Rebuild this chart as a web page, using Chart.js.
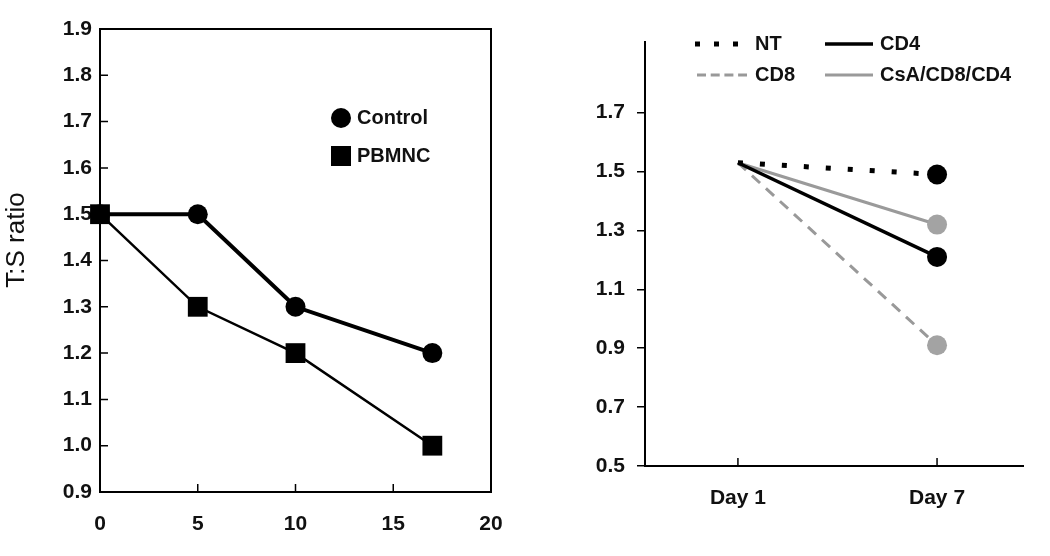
<!DOCTYPE html>
<html>
<head>
<meta charset="utf-8">
<script src="https://cdn.jsdelivr.net/npm/chart.js@4.4.1/dist/chart.umd.min.js"></script>
<style>
  html, body { margin: 0; padding: 0; background: #fff; }
  #wrap { position: relative; width: 1050px; height: 556px; }
  #leftChart { position: absolute; left: 0; top: 0; }
  #rightChart { position: absolute; left: 530px; top: 0; }
</style>
</head>
<body>
<div id="wrap">
  <canvas id="leftChart" width="530" height="556"></canvas>
  <canvas id="rightChart" width="520" height="556"></canvas>
</div>
<script>
// left panel: T:S ratio vs day
const leftDays = [0, 5, 10, 17];
const controlRatio = [1.5, 1.5, 1.3, 1.2];
const pbmncRatio = [1.5, 1.3, 1.2, 1.0];
const leftXTicks = [0, 5, 10, 15, 20];
const leftYTicks = [0.9, 1.0, 1.1, 1.2, 1.3, 1.4, 1.5, 1.6, 1.7, 1.8, 1.9];

// right panel: day 1 -> day 7
const dayNums = [1, 7];
const dayLabels = ['Day 1', 'Day 7'];
const ntRatio = [1.53, 1.49];
const cd4Ratio = [1.53, 1.21];
const cd8Ratio = [1.53, 0.91];
const csaRatio = [1.53, 1.32];
const rightYTicks = [0.5, 0.7, 0.9, 1.1, 1.3, 1.5, 1.7];

Chart.defaults.font.family = 'Arial, "Liberation Sans", sans-serif';
Chart.defaults.color = '#111';

const toXY = (xs, ys) => xs.map((x, i) => ({ x: x, y: ys[i] }));
const tickFont = { size: 21, weight: 'bold' };

// tick marks pointing into the plot area
const inwardTicks = {
  id: 'inwardTicks',
  beforeDatasetsDraw(chart, args, opts) {
    const { ctx, chartArea: a, scales } = chart;
    ctx.save();
    ctx.strokeStyle = '#000';
    ctx.lineWidth = 1.5;
    ctx.beginPath();
    if (opts.x) {
      scales.x.ticks.forEach(t => {
        const px = scales.x.getPixelForValue(t.value);
        ctx.moveTo(px, a.bottom);
        ctx.lineTo(px, a.bottom - 8);
      });
    }
    if (opts.y) {
      scales.y.ticks.forEach(t => {
        const py = scales.y.getPixelForValue(t.value);
        ctx.moveTo(a.left, py);
        ctx.lineTo(a.left + 8, py);
      });
    }
    ctx.stroke();
    ctx.restore();
  }
};

// box, y title and legend for the left panel
const leftDecor = {
  id: 'leftDecor',
  beforeDatasetsDraw(chart) {
    const { ctx, chartArea: a } = chart;
    ctx.save();
    ctx.strokeStyle = '#000';
    ctx.lineWidth = 2;
    ctx.strokeRect(a.left, a.top, a.right - a.left, a.bottom - a.top);
    ctx.restore();
  },
  afterDraw(chart) {
    const ctx = chart.ctx;
    ctx.save();
    ctx.fillStyle = '#111';
    ctx.font = '26px Arial, "Liberation Sans", sans-serif';
    ctx.translate(17, 240);
    ctx.rotate(-Math.PI / 2);
    ctx.textAlign = 'center';
    ctx.textBaseline = 'middle';
    ctx.fillText('T:S ratio', 0, 0);
    ctx.restore();

    // legend
    const rows = [118, 156];
    ctx.save();
    ctx.font = 'bold 20px Arial, "Liberation Sans", sans-serif';
    ctx.textBaseline = 'middle';
    chart.data.datasets.forEach((ds, i) => {
      const y = rows[i];
      ctx.fillStyle = '#000';
      if (ds.pointStyle === 'rect') {
        ctx.fillRect(331, y - 10, 20, 20);
      } else {
        ctx.beginPath();
        ctx.arc(341, y, 10, 0, Math.PI * 2);
        ctx.fill();
      }
      ctx.fillStyle = '#111';
      ctx.fillText(ds.label, 357, y);
    });
    ctx.restore();
  }
};

new Chart(document.getElementById('leftChart'), {
  type: 'line',
  data: {
    datasets: [
      {
        label: 'Control', data: toXY(leftDays, controlRatio),
        borderColor: '#000', borderWidth: 4, pointStyle: 'circle', pointRadius: 10,
        pointBackgroundColor: '#000', pointBorderWidth: 0, clip: false, order: 1
      },
      {
        label: 'PBMNC', data: toXY(leftDays, pbmncRatio),
        borderColor: '#000', borderWidth: 2.5, pointStyle: 'rect', pointRadius: 14,
        pointBackgroundColor: '#000', pointBorderWidth: 0, clip: false, order: 0
      }
    ]
  },
  options: {
    responsive: false,
    animation: false,
    layout: { padding: { top: 29, right: 39, left: 0, bottom: 0 } },
    plugins: {
      legend: { display: false }, tooltip: { enabled: false },
      inwardTicks: { x: true, y: true }
    },
    scales: {
      x: {
        type: 'linear', min: 0, max: 20,
        afterBuildTicks: s => { s.ticks = leftXTicks.map(v => ({ value: v })); },
        afterFit: s => { s.height = 64; },
        border: { color: '#000', width: 2 },
        grid: { drawOnChartArea: false, drawTicks: false },
        ticks: { padding: 20, font: tickFont, maxRotation: 0, autoSkip: false }
      },
      y: {
        type: 'linear', min: 0.9, max: 1.9,
        afterBuildTicks: s => { s.ticks = leftYTicks.map(v => ({ value: v })); },
        afterFit: s => { s.width = 100; },
        border: { color: '#000', width: 2 },
        grid: { drawOnChartArea: false, drawTicks: false },
        ticks: { padding: 8, font: tickFont, autoSkip: false, callback: v => v.toFixed(1) }
      }
    }
  },
  plugins: [leftDecor, inwardTicks]
});

// legend for the right panel
const rightLegend = {
  id: 'rightLegend',
  afterDraw(chart) {
    const ctx = chart.ctx;
    const slots = [
      { x: 165, len: 45, y: 44, dash: [5, 14] },
      { x: 295, len: 48, y: 44, dash: [] },
      { x: 167, len: 50, y: 75, dash: [9, 4.7] },
      { x: 295, len: 48, y: 75, dash: [] }
    ];
    const textX = [225, 350, 225, 350];
    ctx.save();
    ctx.font = 'bold 20px Arial, "Liberation Sans", sans-serif';
    ctx.textBaseline = 'middle';
    chart.data.datasets.forEach((ds, i) => {
      const s = slots[i];
      ctx.strokeStyle = ds.borderColor;
      ctx.lineWidth = ds.borderWidth;
      ctx.setLineDash(s.dash);
      ctx.beginPath();
      ctx.moveTo(s.x, s.y);
      ctx.lineTo(s.x + s.len, s.y);
      ctx.stroke();
      ctx.fillStyle = '#111';
      ctx.fillText(ds.label, textX[i], s.y);
    });
    ctx.restore();
  }
};

new Chart(document.getElementById('rightChart'), {
  type: 'line',
  data: {
    datasets: [
      {
        label: 'NT', data: toXY(dayNums, ntRatio),
        borderColor: '#000', borderWidth: 5, borderDash: [5, 17],
        pointRadius: [0, 10], pointBackgroundColor: '#000', pointBorderWidth: 0, clip: false
      },
      {
        label: 'CD4', data: toXY(dayNums, cd4Ratio),
        borderColor: '#000', borderWidth: 3.5,
        pointRadius: [0, 10], pointBackgroundColor: '#000', pointBorderWidth: 0, clip: false
      },
      {
        label: 'CD8', data: toXY(dayNums, cd8Ratio),
        borderColor: '#999', borderWidth: 3, borderDash: [11, 8],
        pointRadius: [0, 10], pointBackgroundColor: '#a3a3a3', pointBorderWidth: 0, clip: false
      },
      {
        label: 'CsA/CD8/CD4', data: toXY(dayNums, csaRatio),
        borderColor: '#9a9a9a', borderWidth: 3,
        pointRadius: [0, 10], pointBackgroundColor: '#a3a3a3', pointBorderWidth: 0, clip: false
      }
    ]
  },
  options: {
    responsive: false,
    animation: false,
    layout: { padding: { top: 42, right: 27, left: 0, bottom: 0 } },
    plugins: {
      legend: { display: false }, tooltip: { enabled: false },
      inwardTicks: { x: true, y: false }
    },
    scales: {
      x: {
        type: 'linear', min: -1.8, max: 9.59,
        afterBuildTicks: s => { s.ticks = dayNums.map(v => ({ value: v })); },
        afterFit: s => { s.height = 90; },
        border: { color: '#000', width: 2 },
        grid: { drawOnChartArea: false, drawTicks: false },
        ticks: { padding: 20, font: tickFont, maxRotation: 0, autoSkip: false,
                 callback: v => dayLabels[dayNums.indexOf(v)] }
      },
      y: {
        type: 'linear', min: 0.5, max: 1.94,
        afterBuildTicks: s => { s.ticks = rightYTicks.map(v => ({ value: v })); },
        afterFit: s => { s.width = 115; },
        border: { color: '#000', width: 2 },
        grid: { drawOnChartArea: false, tickLength: 8, color: '#000', lineWidth: 1.5 },
        ticks: { padding: 12, font: tickFont, autoSkip: false, callback: v => v.toFixed(1) }
      }
    }
  },
  plugins: [rightLegend, inwardTicks]
});
</script>
</body>
</html>
